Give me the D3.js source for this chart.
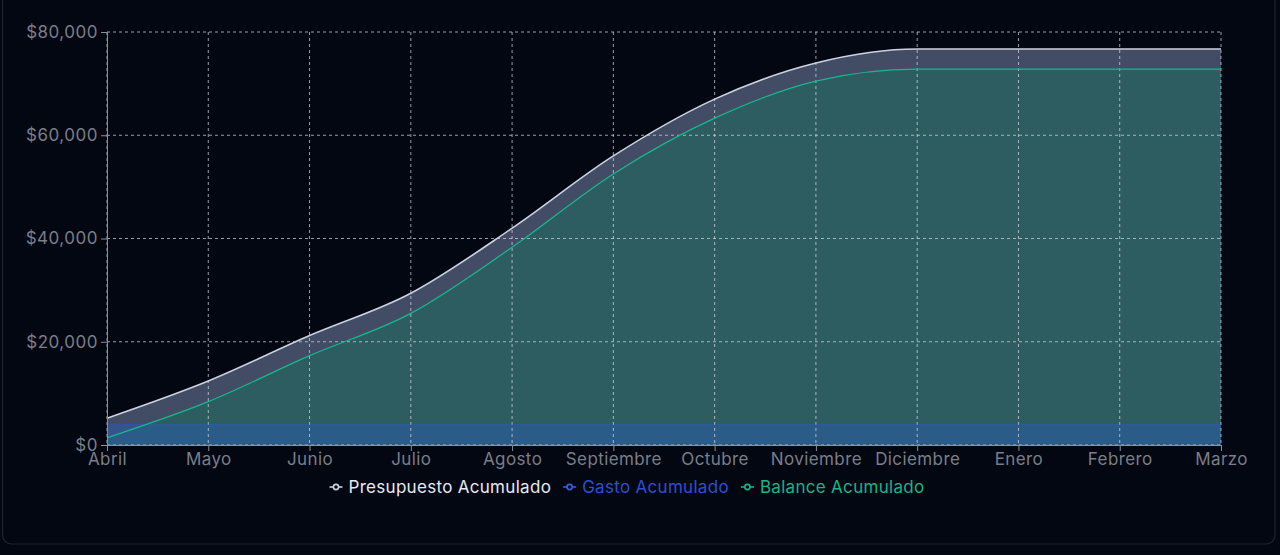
<!DOCTYPE html>
<html>
<head>
<meta charset="utf-8">
<script src="https://cdn.jsdelivr.net/npm/d3@7"></script>
<style>
  html, body { margin: 0; padding: 0; background: #030712; }
  svg { display: block; }
  text { font-family: Inter, "Noto Sans", sans-serif; }
</style>
</head>
<body>
<svg id="chart" width="1280" height="555"></svg>
<script>
const months = ["Abril","Mayo","Junio","Julio","Agosto","Septiembre","Octubre","Noviembre","Diciembre","Enero","Febrero","Marzo"];
const presupuesto = [5200, 12400, 21200, 29400, 42000, 56000, 67000, 74000, 76700, 76700, 76700, 76700];
const gasto = [4000, 4000, 4000, 4000, 4000, 4000, 4000, 4000, 4000, 4000, 4000, 4000];
const balance = [1400, 8400, 17300, 25500, 38300, 52500, 63300, 70500, 72800, 72800, 72800, 72800];
const yTicks = [0, 20000, 40000, 60000, 80000];
const seriesNames = ["Presupuesto Acumulado", "Gasto Acumulado", "Balance Acumulado"];

const svg = d3.select("#chart");
const W = 1280, H = 555;
const m = {left: 107, right: 59, top: 32, bottom: 110};

// card
svg.append("rect").attr("x", 2.5).attr("y", -20).attr("width", 1272.5).attr("height", 564)
  .attr("rx", 9).attr("fill", "#030712").attr("stroke", "#1c2331").attr("stroke-width", 1.2);

const x = d3.scalePoint().domain(months).range([m.left, W - m.right]);
const y = d3.scaleLinear().domain([0, 80000]).range([H - m.bottom, m.top]);

const data = months.map((mo, i) => ({m: mo, p: presupuesto[i], g: gasto[i], b: balance[i]}));

const curve = d3.curveMonotoneX;
const area = key => d3.area().x(d => x(d.m)).y0(y(0)).y1(d => y(d[key])).curve(curve);
const line = key => d3.line().x(d => x(d.m)).y(d => y(d[key])).curve(curve);

// areas
svg.append("path").datum(data).attr("d", area("p")).attr("fill", "#96a6d0").attr("fill-opacity", 0.44);
svg.append("path").datum(data).attr("d", area("b")).attr("fill", "#21695f").attr("fill-opacity", 0.6);
svg.append("path").datum(data).attr("d", area("g")).attr("fill", "#285cb0").attr("fill-opacity", 0.5);

// grid
const grid = svg.append("g").attr("stroke", "#d4d8df").attr("stroke-opacity", 0.72)
  .attr("stroke-dasharray", "3 3").attr("stroke-width", 1);
grid.selectAll("line.h").data(yTicks).join("line").attr("class", "h")
  .attr("x1", m.left).attr("x2", W - m.right).attr("y1", d => y(d)).attr("y2", d => y(d));
grid.selectAll("line.v").data(months).join("line").attr("class", "v")
  .attr("x1", d => x(d)).attr("x2", d => x(d)).attr("y1", m.top).attr("y2", H - m.bottom);

// lines
svg.append("path").datum(data).attr("d", line("g")).attr("fill", "none").attr("stroke", "#2f5bd8").attr("stroke-width", 1).attr("stroke-opacity", 0.4);
svg.append("path").datum(data).attr("d", line("b")).attr("fill", "none").attr("stroke", "#14b890").attr("stroke-width", 1.3);
svg.append("path").datum(data).attr("d", line("p")).attr("fill", "none").attr("stroke", "#cbd2e0").attr("stroke-width", 1.6);

// axes
const tickColor = "#7a7e88";
const yAxis = svg.append("g").attr("transform", `translate(${m.left},0)`)
  .call(d3.axisLeft(y).tickValues(yTicks).tickSize(6).tickPadding(3).tickFormat(d => "$" + d3.format(",")(d)));
yAxis.select(".domain").attr("stroke", "#8a8f99");
yAxis.selectAll(".tick line").attr("stroke", "#8a8f99");
yAxis.selectAll("text").attr("fill", tickColor).attr("font-size", 17).attr("letter-spacing", "0.5px");

const xAxis = svg.append("g").attr("transform", `translate(0,${y(0)})`)
  .call(d3.axisBottom(x).tickSize(6).tickPadding(2));
xAxis.select(".domain").attr("stroke", "#7f9aa6");
xAxis.selectAll(".tick line").attr("stroke", "#8a8f99");
xAxis.selectAll("text").attr("fill", tickColor).attr("font-size", 17).attr("letter-spacing", "0.4px");

// legend
const legColors = ["#e6eaf2", "#2b4fd6", "#19b389"];
const iconColors = ["#cbd2e0", "#3a5be0", "#19b389"];
const leg = svg.append("g");
let cx = 0;
seriesNames.forEach((name, i) => {
  const g = leg.append("g");
  g.append("line").attr("x1", 0).attr("x2", 13).attr("y1", 0).attr("y2", 0).attr("stroke", iconColors[i]).attr("stroke-width", 1.6);
  g.append("circle").attr("cx", 6.5).attr("cy", 0).attr("r", 2.6).attr("fill", "#030712").attr("stroke", iconColors[i]).attr("stroke-width", 1.6);
  const t = g.append("text").attr("x", 19).attr("y", 0).attr("dy", "0.35em").attr("fill", legColors[i]).attr("font-size", 17).attr("letter-spacing", "0.3px").text(name);
  const w = 19 + t.node().getComputedTextLength();
  g.attr("transform", `translate(${cx},487)`);
  cx += w + 12;
});
const total = cx - 12;
leg.attr("transform", `translate(${627 - total / 2},0)`);
</script>
</body>
</html>
